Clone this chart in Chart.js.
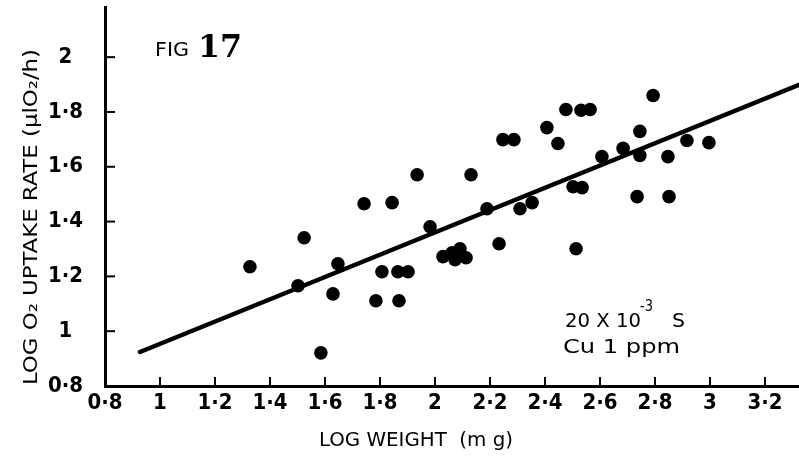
<!DOCTYPE html>
<html>
<head>
<meta charset="utf-8">
<script src="https://cdn.jsdelivr.net/npm/chart.js@4"></script>
<style>
  html, body { margin: 0; padding: 0; background: #fff; }
  #wrap { width: 799px; height: 458px; position: relative; }
</style>
</head>
<body>
<div id="wrap"><canvas id="c" width="799" height="458"></canvas></div>
<script>
// log weight (mg) of each animal
const logWeight = [
  1.327, 1.502, 1.524, 1.585, 1.629, 1.647, 1.742, 1.785, 1.807, 1.844,
  1.865, 1.869, 1.902, 1.935, 1.982, 2.029, 2.062, 2.091, 2.113, 2.073,
  2.131, 2.189, 2.233, 2.247, 2.287, 2.309, 2.353, 2.407, 2.447, 2.476,
  2.502, 2.513, 2.531, 2.535, 2.564, 2.607, 2.684, 2.745, 2.745, 2.735,
  2.793, 2.847, 2.851, 2.916, 2.996
];
// log O2 uptake rate (µl O2/h) of each animal
const logUptake = [
  1.235, 1.166, 1.341, 0.921, 1.136, 1.246, 1.465, 1.111, 1.217, 1.469,
  1.217, 1.111, 1.217, 1.571, 1.381, 1.272, 1.286, 1.301, 1.268, 1.261,
  1.571, 1.447, 1.319, 1.699, 1.699, 1.447, 1.469, 1.743, 1.685, 1.809,
  1.527, 1.301, 1.806, 1.524, 1.809, 1.637, 1.667, 1.729, 1.641, 1.491,
  1.860, 1.637, 1.491, 1.696, 1.688
];
// fitted regression line, end points
const fitX = [0.927, 3.324];
const fitY = [0.924, 1.899];

const xTicks = [0.8, 1, 1.2, 1.4, 1.6, 1.8, 2, 2.2, 2.4, 2.6, 2.8, 3, 3.2];
const xTickLabels = ['0·8', '1', '1·2', '1·4', '1·6', '1·8', '2', '2·2', '2·4', '2·6', '2·8', '3', '3·2'];
const yTicks = [0.8, 1, 1.2, 1.4, 1.6, 1.8, 2];
const yTickLabels = ['0·8', '1', '1·2', '1·4', '1·6', '1·8', '2'];

const xTitle = 'LOG WEIGHT  (m g)';
const yTitle = 'LOG O₂ UPTAKE RATE (µlO₂/h)';
const figLabel = ['FIG', '17'];
const noteLines = ['20 X 10', '-3', 'S', 'Cu 1 ppm'];

const INK = '#000';
const LETTER = '"DejaVu Sans Condensed", "DejaVu Sans", sans-serif';
const SERIF = '"DejaVu Serif", "Liberation Serif", serif';

// short tick marks pointing into the plot, plus the lettering
const decorations = {
  id: 'decorations',
  afterDraw(chart) {
    const ctx = chart.ctx;
    const xs = chart.scales.x, ys = chart.scales.y;
    const a = chart.chartArea;
    ctx.save();
    ctx.strokeStyle = INK;
    ctx.lineWidth = 2;
    ys.ticks.forEach(t => {
      if (t.value <= ys.min) return;
      const p = ys.getPixelForValue(t.value);
      ctx.beginPath(); ctx.moveTo(a.left, p); ctx.lineTo(a.left + 10, p); ctx.stroke();
    });
    xs.ticks.forEach(t => {
      if (t.value <= xs.min) return;
      const p = xs.getPixelForValue(t.value);
      ctx.beginPath(); ctx.moveTo(p, a.bottom); ctx.lineTo(p, a.bottom - 9); ctx.stroke();
    });

    ctx.fillStyle = INK;
    ctx.textBaseline = 'alphabetic';

    // draw a string squeezed or stretched to a given width
    function fitText(str, x, y, width, size, weight, align, family) {
      ctx.font = `${weight || 'normal'} ${size}px ${family || LETTER}`;
      const w = ctx.measureText(str).width;
      ctx.save();
      ctx.translate(x, y);
      ctx.scale(width / w, 1);
      ctx.textAlign = 'left';
      const off = align === 'center' ? -w / 2 : 0;
      ctx.fillText(str, off, 0);
      ctx.restore();
    }

    // x-axis title
    fitText(xTitle, 416, 446, 194, 20, 'normal', 'center');

    // y-axis title, rotated
    ctx.save();
    ctx.translate(37, 217);
    ctx.rotate(-Math.PI / 2);
    fitText(yTitle, 0, 0, 336, 20, 'normal', 'center');
    ctx.restore();

    // figure number
    fitText(figLabel[0], 155, 56, 34, 19, 'normal', 'left');
    fitText(figLabel[1], 198, 57, 44, 32, 'bold', 'left', SERIF);

    // treatment note
    fitText(noteLines[0], 565, 327, 76, 19, 'normal', 'left');
    fitText(noteLines[1], 640, 311, 13, 15, 'normal', 'left');
    fitText(noteLines[2], 672, 327, 13, 19, 'normal', 'left');
    fitText(noteLines[3], 563, 353, 117, 19, 'normal', 'left');
    ctx.restore();
  }
};

const points = logWeight.map((x, i) => ({ x, y: logUptake[i] }));
const fitLine = fitX.map((x, i) => ({ x, y: fitY[i] }));

const tickFont = { family: LETTER, size: 22, weight: 'bold' };

// keep the plot area fixed: no extra room reserved for edge labels
function noEdgePadding(s) {
  s.paddingTop = 0; s.paddingBottom = 0; s.paddingLeft = 0; s.paddingRight = 0;
}

new Chart(document.getElementById('c'), {
  type: 'scatter',
  data: {
    datasets: [
      {
        data: fitLine,
        showLine: true,
        borderColor: INK,
        borderWidth: 4.5,
        pointRadius: 0,
        borderCapStyle: 'round'
      },
      {
        data: points,
        backgroundColor: INK,
        borderColor: INK,
        borderWidth: 0,
        pointRadius: 6.8
      }
    ]
  },
  options: {
    responsive: false,
    animation: false,
    devicePixelRatio: 1,
    layout: { autoPadding: false, padding: { top: 7, right: 0, left: 0, bottom: 0 } },
    plugins: { legend: { display: false }, tooltip: { enabled: false } },
    scales: {
      x: {
        type: 'linear',
        min: 0.8,
        max: 3.3236,
        afterBuildTicks: s => { s.ticks = xTicks.map(v => ({ value: v })); },
        afterFit: s => { s.height = 72; noEdgePadding(s); },
        grid: { display: false, drawTicks: false },
        border: { display: true, color: INK, width: 3 },
        ticks: {
          color: INK,
          font: tickFont,
          padding: 4,
          maxRotation: 0,
          autoSkip: false,
          callback: (v, i) => xTickLabels[i]
        }
      },
      y: {
        type: 'linear',
        min: 0.8,
        max: 2.183,
        afterBuildTicks: s => { s.ticks = yTicks.map(v => ({ value: v })); },
        afterFit: s => { s.width = 105; noEdgePadding(s); },
        grid: { display: false, drawTicks: false },
        border: { display: true, color: INK, width: 3 },
        ticks: {
          color: INK,
          font: tickFont,
          padding: 22,
          crossAlign: 'center',
          autoSkip: false,
          callback: (v, i) => yTickLabels[i]
        }
      }
    }
  },
  plugins: [decorations]
});
</script>
</body>
</html>
